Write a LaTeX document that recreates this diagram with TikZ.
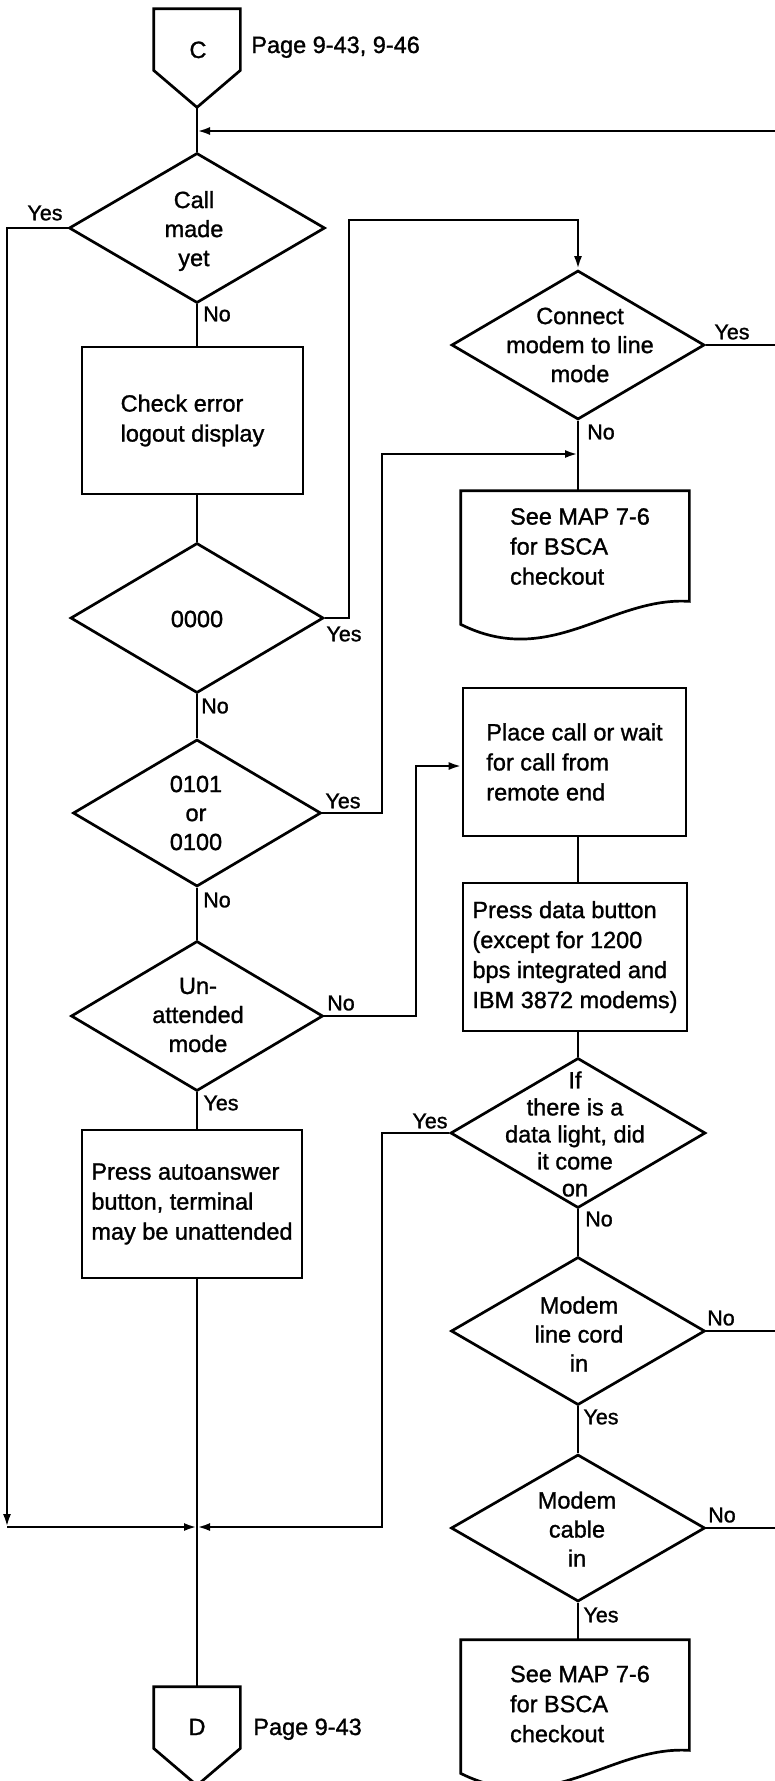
\documentclass[tikz,border=0pt]{standalone}
\usepackage{fontspec}
\setmainfont{Liberation Sans}[FakeBold=1.2]
\usetikzlibrary{shapes.geometric,arrows.meta,calc}
\begin{document}
\begin{tikzpicture}[x=1pt,y=-1pt,line width=2.7pt,
  every node/.style={inner sep=0pt},
  txt/.style={font=\fontsize{23.5}{30}\selectfont},
  dtxt/.style={font=\fontsize{23.5}{29}\selectfont,align=center},
  lbl/.style={font=\fontsize{21.5}{24}\selectfont},
  dia/.style={draw,diamond,inner sep=0pt},
  box/.style={draw,rectangle,align=left,txt},
  conn/.style={rectangle,minimum width=84pt,minimum height=96pt},
  docn/.style={rectangle,minimum width=226pt,minimum height=108pt},
  arr/.style={-{Latex[length=13pt,width=8pt]}}]
\useasboundingbox (0,0) rectangle (775,1781);
\fill[white] (0,0) rectangle (775,1781);

% coordinates
\coordinate (rX) at (780,0);
\coordinate (lX) at (7,0);
\coordinate (jT) at (197,131);
\coordinate (jM) at (197,1527);
\coordinate (k1) at (349,220);
\coordinate (k2) at (382,454);
\coordinate (k3) at (416,0);

% connector C
\node[conn] (cC) at (197,58) {};
\draw (cC.north west) -- (cC.north east) -- ($(cC.south east)+(0,-37)$) -- (cC.south) -- ($(cC.south west)+(0,-37)$) -- cycle;
\node[txt,anchor=base] (cCt) at (198,58) {C};
\node[txt,anchor=base west] (pC) at (250,53) {Page 9-43, 9-46};

% left column
\node[dia,minimum width=256pt,minimum height=150pt] (d1) at (197,228) {};
\node[dtxt] (d1t) at (194,231) {Call\\made\\yet};
\node[box,minimum width=221pt,minimum height=147pt] (b1) at (192.5,420.5) {Check error\\logout display};
\node[dia,minimum width=253pt,minimum height=150pt] (d2) at (197,618) {};
\node[dtxt] (d2t) at (197,619) {0000};
\node[dia,minimum width=248pt,minimum height=147pt] (d3) at (197,813) {};
\node[dtxt] (d3t) at (196,813) {0101\\or\\0100};
\node[dia,minimum width=252pt,minimum height=150pt] (d4) at (197,1016) {};
\node[dtxt] (d4t) at (198,1015) {Un-\\attended\\mode};
\node[box,minimum width=220pt,minimum height=148pt] (b2) at (192,1204) {Press autoanswer\\button, terminal\\may be unattended};

% connector D
\node[conn] (cD) at (197,1736) {};
\draw (cD.north west) -- (cD.north east) -- ($(cD.south east)+(0,-37)$) -- (cD.south) -- ($(cD.south west)+(0,-37)$) -- cycle;
\node[txt,anchor=base] (cDt) at (197,1735) {D};
\node[txt,anchor=base west] (pD) at (252,1735) {Page 9-43};

% right column
\node[dia,minimum width=253pt,minimum height=149pt] (dc) at (578,345) {};
\node[dtxt] (dct) at (580,345) {Connect\\modem to line\\mode};
\node[docn] (doc1) at (575,546) {};
\draw ($(doc1.south west)+(0,23)$) -- (doc1.north west) -- (doc1.north east) -- (doc1.south east)
  .. controls ($(doc1.south west)+(150,-5)$) and ($(doc1.south west)+(90,68)$) .. ($(doc1.south west)+(0,23)$) -- cycle;
\node[txt,align=left] (doc1t) at (580,546.5) {See MAP 7-6\\for BSCA\\checkout};
\node[box,minimum width=223pt,minimum height=148pt] (b3) at (574.5,762) {Place call or wait\\for call from\\remote end};
\node[box,minimum width=224pt,minimum height=148pt] (b4) at (575,957) {Press data button\\(except for 1200\\bps integrated and\\IBM 3872 modems)};
\node[dia,minimum width=255pt,minimum height=150pt] (dif) at (578,1133) {};
\node[dtxt,font=\fontsize{23.5}{27}\selectfont] (dift) at (575,1134) {If\\there is a\\data light, did\\it come\\on};
\node[dia,minimum width=254pt,minimum height=148pt] (dm1) at (578,1331) {};
\node[dtxt] (dm1t) at (579,1334) {Modem\\line cord\\in};
\node[dia,minimum width=254pt,minimum height=147pt] (dm2) at (578,1528) {};
\node[dtxt] (dm2t) at (577,1529) {Modem\\cable\\in};
\node[docn] (doc2) at (575,1695) {};
\draw ($(doc2.south west)+(0,23)$) -- (doc2.north west) -- (doc2.north east) -- (doc2.south east)
  .. controls ($(doc2.south west)+(150,-5)$) and ($(doc2.south west)+(90,68)$) .. ($(doc2.south west)+(0,23)$) -- cycle;
\node[txt,align=left] (doc2t) at (580,1704) {See MAP 7-6\\for BSCA\\checkout};

% connectors
\draw (cC.south) -- (d1.north);
\draw[arr] (jT -| rX) -- (jT);
\draw[arr] (d1.west) -- (d1.west -| lX) -- (lX |- jM);
\draw[arr] (lX |- jM) -- (jM);
\draw (d1.south) -- (d1.south |- b1.north);
\draw (d1.south |- b1.south) -- (d2.north);
\draw[arr] (d2.east) -| (k1) -| (dc.north);
\draw (d2.south) -- (d3.north);
\draw[arr] (d3.east) -| (k2) -- (k2 -| dc.south);
\draw (dc.south) -- (dc.south |- doc1.north);
\draw (dc.east) -- (dc.east -| rX);
\draw (d3.south) -- (d4.north);
\draw[arr] (d4.east) -- (d4.east -| k3) |- ([yshift=-4pt]b3.west);
\draw (d4.south) -- (d4.south |- b2.north);
\draw (d4.south |- b2.south) -- (cD.north);
\draw (dc.south |- b3.south) -- (dc.south |- b4.north);
\draw (dc.south |- b4.south) -- (dif.north);
\draw[arr] (dif.west) -- (dif.west -| k2) -- (k2 |- jM) -- (jM);
\draw (dif.south) -- (dm1.north);
\draw (dm1.east) -- (dm1.east -| rX);
\draw (dm1.south) -- (dm2.north);
\draw (dm2.east) -- (dm2.east -| rX);
\draw (dm2.south) -- (dm2.south |- doc2.north);

% labels
\node[lbl] (l1) at (45,213) {Yes};
\node[lbl] (l2) at (217,314) {No};
\node[lbl] (l3) at (344,634) {Yes};
\node[lbl] (l4) at (215,706) {No};
\node[lbl] (l5) at (343,801) {Yes};
\node[lbl] (l6) at (217,900) {No};
\node[lbl] (l7) at (341,1003) {No};
\node[lbl] (l8) at (221,1103) {Yes};
\node[lbl] (l9) at (601,432) {No};
\node[lbl] (l10) at (732,332) {Yes};
\node[lbl] (l11) at (430,1121) {Yes};
\node[lbl] (l12) at (599,1219) {No};
\node[lbl] (l13) at (721,1318) {No};
\node[lbl] (l14) at (601,1417) {Yes};
\node[lbl] (l15) at (722,1515) {No};
\node[lbl] (l16) at (601,1615) {Yes};
\end{tikzpicture}
\end{document}
